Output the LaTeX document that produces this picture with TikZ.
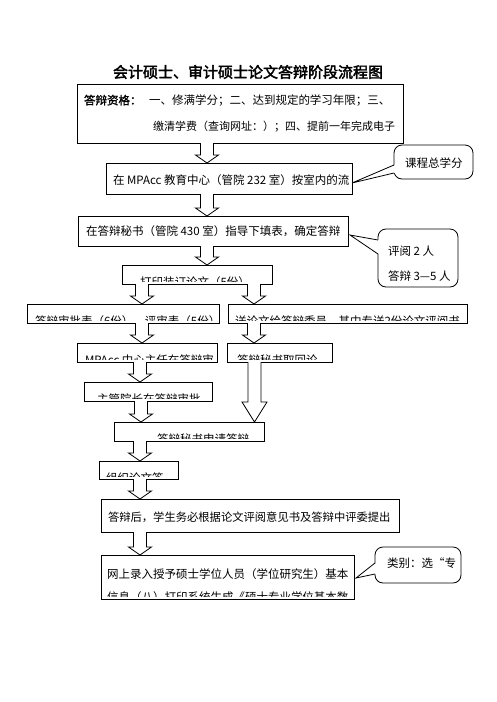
\documentclass[tikz,border=0pt]{standalone}
\usepackage{fontspec}
\setmainfont{Noto Sans CJK SC}
\newfontfamily\titlefont[FakeBold=2.5]{Noto Sans CJK SC}
\newfontfamily\boldcjk[FakeBold=1.5]{Noto Sans CJK SC}
\usetikzlibrary{calc}
\tikzset{
  box/.style={draw, line width=0.9pt, outer sep=0pt, inner sep=0pt, anchor=north west},
  txt/.style={inner sep=0pt, outer sep=0pt, anchor=base west, font=\fontsize{11.5}{13}\selectfont},
  harr/.style={draw, line width=0.8pt, fill=white, line join=miter},
  callout/.style={draw, line width=0.8pt, rounded corners=8pt, outer sep=0pt, inner sep=0pt, anchor=north west, fill=white},
  ptr/.style={line width=0.8pt}
}
% clipped box: name, x, y, w, h, text x, text
\newcommand\cbox[7]{%
  \node[box, minimum width=#4pt, minimum height=#5pt] (#1) at (#2,#3) {};
  \begin{scope}
    \clip (#2,#3) rectangle (#2+#4,#3+#5-3);
    \node[txt] (#1t) at (#6,#3+21.5) {#7};
  \end{scope}}
% hollow arrow: from, to, x, shaft half width, head half width, head length
\newcommand\harrow[6]{%
  \path[harr] let \p1=(#1.south), \p2=(#2.north) in
    (#3-#4,\y1) -- (#3-#4,\y2+#6pt) -- (#3-#5,\y2+#6pt) -- (#3,\y2)
    -- (#3+#5,\y2+#6pt) -- (#3+#4,\y2+#6pt) -- (#3+#4,\y1);}
\begin{document}
\begin{tikzpicture}[x=1pt,y=-1pt]
\useasboundingbox (0,0) rectangle (496,702);

\node (title) at (248,72) {\titlefont\fontsize{15}{17}\selectfont 会计硕士、审计硕士论文答辩阶段流程图};

% box 1
\node[box, minimum width=326pt, minimum height=59pt] (b1) at (77,84) {};
\node[txt] (q0) at (84,104.5) {\boldcjk 答辩资格：};
\node[txt] (q1) at (149,104.5) {一、修满学分；二、达到规定的学习年限；三、};
\node[txt, font=\fontsize{11}{13}\selectfont] (q2) at (153,130.5) {缴清学费（查询网址：）；四、提前一年完成电子};

% box 2
\node[box, minimum width=246pt, minimum height=31pt] (b2) at (106,163) {};
\node[txt] (b2t) at (113,184) {在 MPAcc 教育中心（管院 232 室）按室内的流};

% box 3
\node[box, minimum width=270pt, minimum height=30pt] (b3) at (78,216) {};
\node[txt] (b3t) at (86,235.5) {在答辩秘书（管院 430 室）指导下填表，确定答辩};

% clipped boxes
\cbox{b4}{122}{265}{150}{19}{140}{打印装订论文（5份）}
\cbox{b5l}{27}{304}{192}{19}{35}{答辩审批表（6份）、评审表（5份）}
\cbox{b5r}{228}{304}{239}{19}{235}{送论文给答辩委员，其中专送2份论文评阅书}
\cbox{b6l}{77}{343}{140}{19}{85}{MPAcc 中心主任在答辩审}
\cbox{b6r}{227}{343}{105}{19}{237}{答辩秘书取回论}
\cbox{b7}{84}{382}{128}{19}{97}{主管院长在答辩审批}
\cbox{b8}{114}{422}{150}{19}{157}{答辩秘书申请答辩}
\cbox{b9}{99}{461}{79}{18}{106}{组织论文答}

% box 10
\node[box, minimum width=298pt, minimum height=33pt] (b10) at (101,499) {};
\node[txt, font=\fontsize{11.3}{13}\selectfont] (b10t) at (108,521) {答辩后，学生务必根据论文评阅意见书及答辩中评委提出};

% box 11
\node[box, minimum width=253pt, minimum height=44pt] (b11) at (101,555) {};
\node[txt] (b11t) at (107,578) {网上录入授予硕士学位人员（学位研究生）基本};
\begin{scope}
  \clip (101,555) rectangle (354,596);
  \node[txt] (b11u) at (107,601.5) {信息（八）打印系统生成《硕士专业学位基本数};
\end{scope}

% arrows
\harrow{b1}{b2}{207}{6.5}{11.5}{8}
\harrow{b2}{b3}{207}{6.5}{11.5}{8}
\harrow{b3}{b4}{207}{6.5}{11.5}{8}
\harrow{b4}{b5l}{142}{6.5}{11.5}{8}
\harrow{b4}{b5r}{254}{6.5}{11.5}{8}
\harrow{b5l}{b6l}{142}{6.5}{11.5}{8}
\harrow{b5r}{b6r}{254}{6.5}{11.5}{8}
\harrow{b6l}{b7}{140}{6.5}{11.5}{8}
\harrow{b7}{b8}{141}{6.5}{11.5}{8}
\harrow{b8}{b9}{140}{6.5}{11.5}{8}
\harrow{b9}{b10}{140}{6.5}{11.5}{8}
\harrow{b10}{b11}{140}{6.5}{11.5}{8}
\harrow{b6r}{b8}{254.5}{6.5}{12.5}{20}

% callout 1
\node[callout, minimum width=79pt, minimum height=34pt] (c1) at (394,145) {};
\node[txt] (c1t) at (405,167.5) {课程总学分};
\coordinate (p1) at (352,183);
\fill[white] (395,165) -- (p1) -- (395,173) -- cycle;
\draw[ptr] (394,165) -- (p1) -- (394,173);

% callout 2
\node[callout, minimum width=80pt, minimum height=58pt] (c2) at (378,229) {};
\node[txt] (c2t) at (388,255.5) {评阅 2 人};
\node[txt] (c2u) at (388,280.5) {答辩 3—5 人};
\coordinate (p2) at (350,235);
\fill[white] (379,240) -- (p2) -- (379,254) -- cycle;
\draw[ptr] (378,240) -- (p2) -- (378,254);

% callout 3
\node[callout, minimum width=86pt, minimum height=36pt] (c3) at (375,547) {};
\node[txt] (c3t) at (387,567.5) {类别：选“专};
\coordinate (p3) at (356,578);
\fill[white] (376,563) -- (p3) -- (376,574) -- cycle;
\draw[ptr] (375,563) -- (p3) -- (375,574);
\end{tikzpicture}
\end{document}
